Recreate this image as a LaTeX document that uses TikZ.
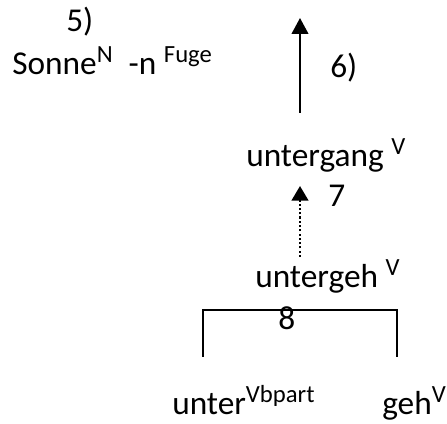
\documentclass[tikz,border=0pt]{standalone}
\usepackage{fontspec}
\setmainfont{Carlito}
\usepackage{tikz}
\usetikzlibrary{positioning,arrows.meta}
\newcommand{\hoch}[1]{\raisebox{9.5pt}{\fontsize{18.5}{22}\selectfont #1}}

\begin{document}
\begin{tikzpicture}[
  x=0.75pt, y=-0.75pt,
  word/.style={anchor=base west, inner sep=0pt, font=\fontsize{25}{30}\selectfont},
  derive/.style={line width=1.5pt, -{Triangle[length=12pt,width=12.5pt]}},
  bracket/.style={line width=1.1pt},
]
\useasboundingbox (0,0) rectangle (447,424);
% upper left: compound with linking element
\node[word] (num5) at (66,32) {5)};
\node[word] (sonne) at (12,75) {Sonne\hoch{N}\hspace{12pt}-n \hoch{Fuge}};
% derivation chain
\node[word] (untergang) at (246,167) {untergang \hoch{V}};
\node[word] (untergeh) at (255,288) {untergeh \hoch{V}};
\node[word] (unter) at (172,415) {unter\hoch{Vbpart}};
\node[word] (geh) at (382,415) {geh\hoch{V}};
% step numbers
\node[word] (num6) at (330,78) {6)};
\node[word] (num7) at (328,207) {7};
\node[word] (num8) at (278,330) {8};
% connector ends
\coordinate (top6) at (300,18);
\coordinate (bot6) at (300,113);
\coordinate (top7) at (300,186);
\coordinate (bot7) at (300,257);
\coordinate (brl) at (203,357);
\coordinate (brr) at (397,357);
\draw[derive] (bot6) -- (top6);
\draw[derive, -{Triangle[length=11pt,width=12.5pt]}, line width=1.8pt, dash pattern=on 1.6pt off 1.6pt] (bot7) -- (top7);
\draw[bracket] (brl) |- (300,310) -| (brr);
\end{tikzpicture}
\end{document}
